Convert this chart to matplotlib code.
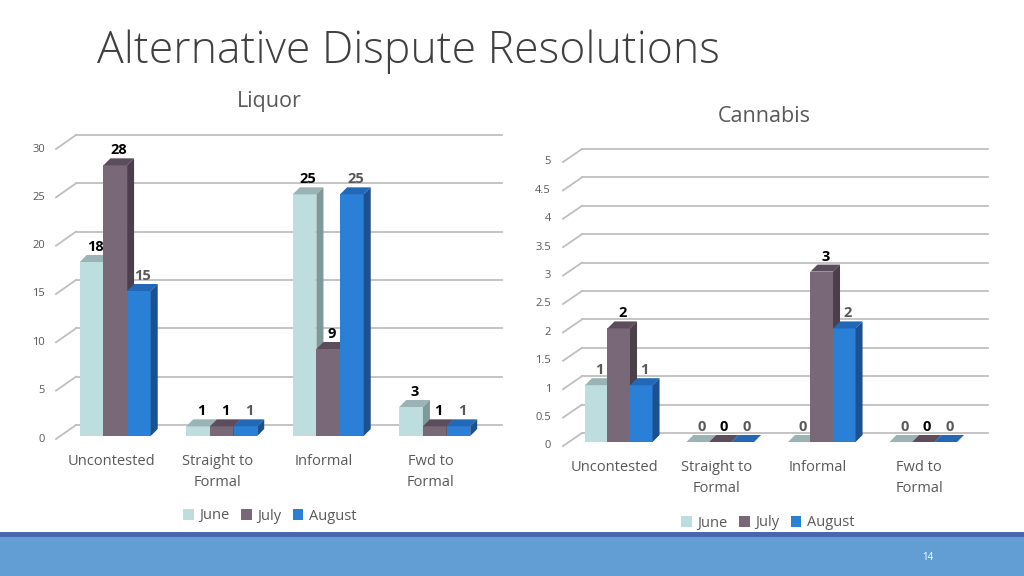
import matplotlib.pyplot as plt
from matplotlib.patches import Polygon, Rectangle, Patch

plt.rcParams['font.family'] = ['Open Sans', 'DejaVu Sans']

categories = ['Uncontested', 'Straight to\nFormal', 'Informal', 'Fwd to\nFormal']
months = ['June', 'July', 'August']

liquor_june = [18, 1, 25, 3]
liquor_july = [28, 1, 9, 1]
liquor_august = [15, 1, 25, 1]

cannabis_june = [1, 0, 0, 0]
cannabis_july = [2, 0, 3, 0]
cannabis_august = [1, 0, 2, 0]

liquor_ticks = [0, 5, 10, 15, 20, 25, 30]
cannabis_ticks = [0, 0.5, 1, 1.5, 2, 2.5, 3, 3.5, 4, 4.5, 5]
cannabis_tick_labels = ['0', '0.5', '1', '1.5', '2', '2.5', '3', '3.5', '4', '4.5', '5']

face_col = ['#BEDDDF', '#786878', '#2A7FD6']
top_col = ['#9BB3B4', '#5C4D5C', '#2268B6']
side_col = ['#7F9899', '#4A3F4A', '#1C508E']
grid_col = '#BFBFBF'
text_col = '#595959'


def draw_chart(ax, series, ticks, tick_labels, label_colors,
               wall=(14, 11), front=(-6, -3), depth=(7, 7), lab_y=-18):
    fig = ax.figure
    ymax = ticks[-1]
    ax.set_xlim(-0.5, 3.5)
    ax.set_ylim(0, ymax)
    ax.axis('off')
    pos = ax.get_position()
    W, H = fig.get_size_inches() * fig.dpi
    kx = 4 / (pos.width * W)
    ky = ymax / (pos.height * H)

    # back wall grid + the little diagonals at the front
    for t, lab in zip(ticks, tick_labels):
        ax.plot([-0.5 + front[0] * kx, -0.5 + wall[0] * kx],
                [t + front[1] * ky, t + wall[1] * ky],
                color=grid_col, lw=1.3, clip_on=False, zorder=1)
        ax.plot([-0.5 + wall[0] * kx, 3.5 + wall[0] * kx],
                [t + wall[1] * ky] * 2,
                color=grid_col, lw=1.3, clip_on=False, zorder=1)
        ax.annotate(lab, xy=(-0.5, t), xytext=(-17, front[1]),
                    textcoords='offset pixels', ha='right', va='center',
                    fontsize=8, color=text_col)

    w = 0.222
    dx, dy = depth[0] * kx, depth[1] * ky
    z = 2
    for i in range(len(categories)):
        for j, vals in enumerate(series):
            h = vals[i]
            x0 = i + (j - 1.5) * w
            x1 = x0 + w
            ax.add_patch(Rectangle((x0, 0), w, h, facecolor=face_col[j],
                                   edgecolor='none', zorder=z, clip_on=False))
            ax.add_patch(Polygon([(x0, h), (x1, h), (x1 + dx, h + dy), (x0 + dx, h + dy)],
                                 facecolor=top_col[j], edgecolor='none',
                                 zorder=z, clip_on=False))
            ax.add_patch(Polygon([(x1, 0), (x1 + dx, dy), (x1 + dx, h + dy), (x1, h)],
                                 facecolor=side_col[j], edgecolor='none',
                                 zorder=z, clip_on=False))
            z += 1
            ax.annotate(str(h), xy=(x0 + w / 2, h), xytext=(depth[0] / 2, depth[1] + 1),
                        textcoords='offset pixels', ha='center', va='bottom',
                        fontsize=10.5, fontweight='bold', color=label_colors[j],
                        zorder=50)
        ax.annotate(categories[i], xy=(i, 0), xytext=(-4, lab_y),
                    textcoords='offset pixels', ha='center', va='top',
                    fontsize=10.5, color=text_col, linespacing=1.55)


fig = plt.figure(figsize=(10.24, 5.76), dpi=100)

ax1 = fig.add_axes([62 / 1024, 1 - 436 / 576, 426 / 1024, 290 / 576])
ax2 = fig.add_axes([568 / 1024, 1 - 442 / 576, 406 / 1024, 284 / 576])

draw_chart(ax1, [liquor_june, liquor_july, liquor_august], liquor_ticks,
           [str(t) for t in liquor_ticks], ['black', 'black', text_col],
           wall=(14, 11), front=(-6, -3))
draw_chart(ax2, [cannabis_june, cannabis_july, cannabis_august], cannabis_ticks,
           cannabis_tick_labels, [text_col, 'black', text_col],
           wall=(14, 9), front=(-5, -4))

fig.text(97 / 1024, 1 - 52 / 576, 'Alternative Dispute Resolutions', fontsize=32,
         color='#404040', ha='left', va='center', fontweight='light')
fig.text(269 / 1024, 1 - 102 / 576, 'Liquor', fontsize=15.5, color=text_col,
         ha='center', va='center')
fig.text(764 / 1024, 1 - 117 / 576, 'Cannabis', fontsize=15.5, color=text_col,
         ha='center', va='center')

handles = [Patch(facecolor=c) for c in face_col]
for cx, cy in [(270 / 1024, 1 - 516 / 576), (768 / 1024, 1 - 523 / 576)]:
    fig.legend(handles, months, loc='center', bbox_to_anchor=(cx, cy), ncol=3,
               frameon=False, fontsize=10.5, labelcolor=text_col,
               handlelength=0.7, handleheight=0.7, handletextpad=0.4,
               columnspacing=0.8)

# footer bands
fig.patches.append(Rectangle((0, 1 - 537 / 576), 1, 5 / 576, transform=fig.transFigure,
                             facecolor='#4A66AC', edgecolor='none'))
fig.patches.append(Rectangle((0, 0), 1, 1 - 537 / 576, transform=fig.transFigure,
                             facecolor='#629ED3', edgecolor='none'))
fig.text(928 / 1024, 1 - 558 / 576, '14', fontsize=7, color='white',
         ha='center', va='center')

fig.savefig('out.png', dpi=100)
